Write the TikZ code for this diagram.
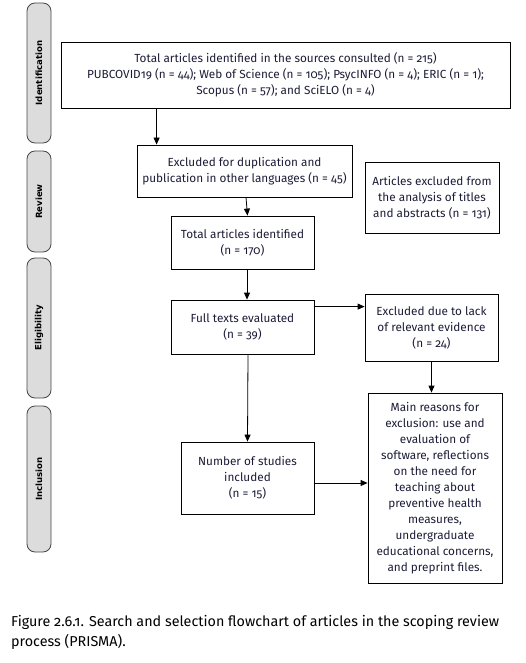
\documentclass[tikz,border=0pt]{standalone}
\usepackage{fontspec}
\setmainfont{Fira Sans}[Numbers=OldStyle]
\newfontfamily\tabfont{DejaVu Sans}
\newfontfamily\capfont{Fira Sans}[Numbers=OldStyle]
\usetikzlibrary{arrows.meta}
\definecolor{boxtext}{RGB}{28,28,55}
\definecolor{tabfill}{RGB}{220,220,220}
\definecolor{tabline}{RGB}{70,70,70}
\tikzset{
  flowbox/.style={draw=black, line width=0.8bp, align=center, text=boxtext,
    font=\fontsize{11.8}{16}\selectfont, inner sep=0pt},
  phasetab/.style={draw=tabline, fill=tabfill, rounded corners=8bp, line width=0.8bp,
    rotate=90, minimum height=24bp, inner sep=0pt,
    font=\tabfont\bfseries\fontsize{8.6}{10}\selectfont},
  arr/.style={-{Triangle[length=7bp,width=6bp]}, line width=0.8bp},
  captext/.style={anchor=base west, inner sep=0pt, font=\capfont\fontsize{14.4}{20}\selectfont}
}
\begin{document}
\begin{tikzpicture}[x=1bp,y=-1bp]
\useasboundingbox (0,0) rectangle (526,663);
% phase tabs
\node[phasetab, minimum width=140bp] (tid) at (39,73) {Identification};
\node[phasetab, minimum width=101bp] (trev) at (39,201.5) {Review};
\node[phasetab, minimum width=140bp] (telig) at (39,328) {Eligibility};
\node[phasetab, minimum width=146bp] (tinc) at (39,479) {Inclusion};
% boxes
\node[flowbox, minimum width=449bp, minimum height=66bp] (b1) at (285.5,75)
  {Total articles identified in the sources consulted (n = 215)\\
   PUBCOVID19 (n = 44); Web of Science (n = 105); PsycINFO (n = 4); ERIC (n = 1);\\
   Scopus (n = 57); and SciELO (n = 4)};
\node[flowbox, minimum width=215bp, minimum height=52bp] (b2) at (244.5,171)
  {Excluded for duplication and\\ publication in other languages (n = 45)};
\node[flowbox, minimum width=143bp, minimum height=53bp] (b3) at (242.5,242.5)
  {Total articles identified\\ (n = 170)};
\node[flowbox, minimum width=134bp, minimum height=71bp] (s1) at (432,197.5)
  {Articles excluded from\\ the analysis of titles\\ and abstracts (n = 131)};
\node[flowbox, minimum width=143bp, minimum height=54bp] (b4) at (242.5,327)
  {Full texts evaluated\\ (n = 39)};
\node[flowbox, minimum width=133bp, minimum height=67bp] (s2) at (431.5,327.5)
  {Excluded due to lack\\ of relevant evidence\\ (n = 24)};
\node[flowbox, minimum width=134bp, minimum height=190bp] (s3) at (435,488)
  {Main reasons for\\ exclusion: use and\\ evaluation of\\ software, reflections\\ on the need for\\ teaching about\\ preventive health\\ measures,\\ undergraduate\\ educational concerns,\\ and preprint files.};
\node[flowbox, minimum width=133bp, minimum height=72bp] (b5) at (247.5,478)
  {Number of studies\\ included\\ (n = 15)};
% arrows
\draw[arr] ([xshift=20bp]b2.north west |- b1.south) -- ([xshift=20bp]b2.north west);
\draw[arr] ([xshift=3.5bp]b2.south -| b3.north) -- ([xshift=5bp]b3.north);
\draw[arr] ([xshift=4.5bp]b3.south) -- ([xshift=4.5bp]b4.north);
\draw[arr] ([xshift=5.5bp]b4.south) -- (b5.north);
\draw[arr] ([yshift=-7bp]b4.north east) -- ([yshift=-7bp]b4.north east -| s2.west);
\draw[arr] (s2.south) -- (s2.south |- s3.north);
\draw[arr] ([yshift=-5bp]b5.east) -- ([yshift=-5bp]b5.east -| s3.west);
% caption
\node[captext] (cap1) at (11,626) {Figure 2.6.1. Search and selection flowchart of articles in the scoping review};
\node[captext] (cap2) at (11,646) {process (PRISMA).};
\end{tikzpicture}
\end{document}
